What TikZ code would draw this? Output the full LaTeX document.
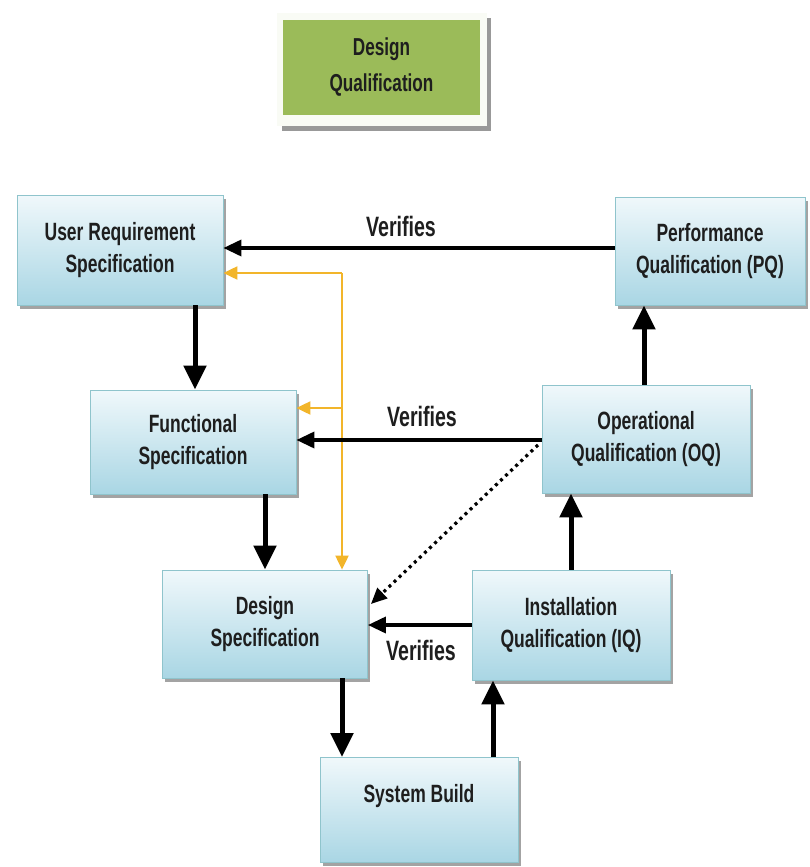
\documentclass[tikz,border=0pt]{standalone}
\usepackage{fontspec}
\setmainfont{Liberation Sans}[FakeStretch=0.7]
\usetikzlibrary{arrows.meta,shadows,calc}
\definecolor{boxtop}{HTML}{F0F8FB}
\definecolor{boxbot}{HTML}{A9D6E4}
\definecolor{boxline}{HTML}{8FC4CC}
\definecolor{olive}{HTML}{9BBB59}
\definecolor{gold}{HTML}{F2B52A}
\definecolor{ink}{HTML}{1E1E1E}
\tikzset{
  stagebox/.style={draw=boxline, line width=0.8pt, top color=boxtop, bottom color=boxbot,
    inner sep=0pt, align=center, text=ink,
    font=\fontsize{25}{32}\selectfont\bfseries,
    drop shadow={shadow xshift=2.5pt, shadow yshift=-3.5pt, fill=black!45, opacity=0.8}},
  flow/.style={line width=5pt, -{Triangle[length=24pt,width=22pt]}, draw=black},
  verif/.style={line width=3.5pt, -{Triangle[length=18pt,width=16pt]}, draw=black},
  trace/.style={line width=2pt, draw=gold, -{Triangle[length=14pt,width=13pt]}, gold},
  dotlink/.style={line width=3.2pt, dash pattern=on 3pt off 4pt, -{Triangle[length=16pt,width=14pt]}},
  verlabel/.style={font=\fontsize{28}{30}\selectfont\bfseries, text=ink, inner sep=0pt}
}
\begin{document}
\begin{tikzpicture}[x=1pt, y=-1pt]
  \useasboundingbox[fill=white] (0,0) rectangle (810,867);

  % design qualification tag
  \fill[black!40] (282,18) rectangle (491,131);
  \fill[white!94!olive] (277,13) rectangle (487,126);
  \node[fill=olive, minimum width=197pt, minimum height=95pt, inner sep=0pt, align=center,
        text=ink, font=\fontsize{24.5}{36}\selectfont\bfseries] (dq) at (381.5,67.5)
        {Design\\Qualification};

  % stages of the life cycle
  \node[stagebox, minimum width=206pt, minimum height=110pt] (urs) at (120,250)
        {User Requirement\\Specification};
  \node[stagebox, minimum width=206pt, minimum height=104pt] (fs) at (193,442)
        {Functional\\Specification};
  \node[stagebox, minimum width=205pt, minimum height=108pt] (ds) at (265,624)
        {Design\\Specification};
  \node[stagebox, minimum width=198pt, minimum height=105pt] (sb) at (419,810)
        {\raisebox{34pt}{System Build}};
  \node[stagebox, minimum width=198pt, minimum height=110pt] (iq) at (571,625)
        {Installation\\Qualification (IQ)};
  \node[stagebox, minimum width=208pt, minimum height=108pt] (oq) at (646,439)
        {Operational\\Qualification (OQ)};
  \node[stagebox, minimum width=190pt, minimum height=108pt] (pq) at (710,251)
        {Performance\\Qualification (PQ)};

  % reference x positions of the vertical arrows
  \coordinate (x1) at (195,0);
  \coordinate (x2) at (265,0);
  \coordinate (x3) at (342,0);
  \coordinate (x4) at (493,0);
  \coordinate (x5) at (571,0);
  \coordinate (x6) at (644,0);
  % reference y positions of the horizontal arrows
  \coordinate (y1) at (0,248);
  \coordinate (y2) at (0,440);
  \coordinate (y3) at (0,625);
  \coordinate (y4) at (0,273);
  \coordinate (y5) at (0,408);

  % traceability links (yellow)
  \coordinate (tt) at (x3 |- y4);
  \coordinate (tb) at (x3 |- y5);
  \draw[trace] (tt) -- (urs.east |- y4);
  \draw[trace] (tb) -- (fs.east |- y5);
  \draw[trace] (tt) -- (ds.north -| x3);

  % specification and build flow
  \draw[flow] (urs.south -| x1) -- (fs.north -| x1);
  \draw[flow] (fs.south -| x2) -- (ds.north -| x2);
  \draw[flow] (ds.south -| x3) -- (sb.north -| x3);
  \draw[flow] (sb.north -| x4) -- (iq.south -| x4);
  \draw[flow] (iq.north -| x5) -- (oq.south -| x5);
  \draw[flow] (oq.north -| x6) -- (pq.south -| x6);

  % verification links
  \draw[verif] (pq.west |- y1) -- (urs.east |- y1);
  \draw[verif] (oq.west |- y2) -- (fs.east |- y2);
  \draw[verif] (iq.west |- y3) -- (ds.east |- y3);
  \coordinate (dotstart) at (538,445);
  \draw[dotlink] (dotstart) -- ($(ds.east)+(3,-20)$);

  \node[verlabel] (v1) at (401,226) {Verifies};
  \node[verlabel] (v2) at (422,416) {Verifies};
  \node[verlabel] (v3) at (421,650) {Verifies};
\end{tikzpicture}
\end{document}
